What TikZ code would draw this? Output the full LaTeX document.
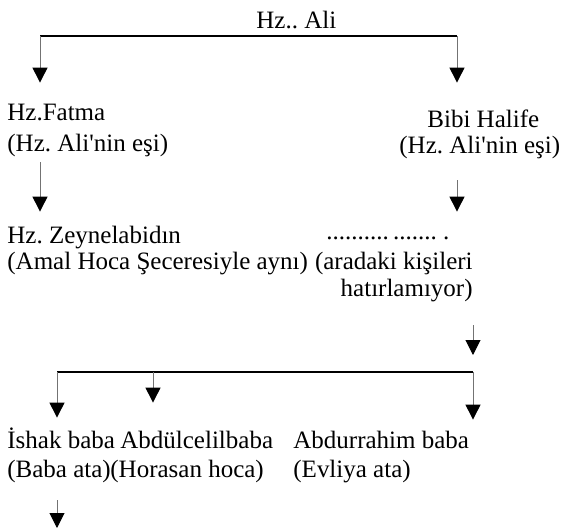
\documentclass[tikz,border=0pt]{standalone}
\usepackage{fontspec}
\setmainfont{Liberation Serif}
\usetikzlibrary{arrows.meta}
\frenchspacing

\begin{document}
\begin{tikzpicture}[x=0.5pt,y=-0.5pt,
  ad/.style={inner sep=0pt,anchor=base west,text height=8.5pt,text depth=2.5pt,font=\fontsize{12.5}{15}\selectfont},
  ok/.style={draw=black!55,line width=0.5pt,-{Triangle[length=7.5pt,width=7.5pt,color=black]}},
  cizgi/.style={draw=black,line width=0.6pt}]
\useasboundingbox (0,0) rectangle (564,530);
% isimler (names)
\node[ad] (ali) at (256,29) {Hz.. Ali};
\node[ad] (fatma) at (7,120) {Hz.Fatma};
\node[ad] (fatmaes) at (7,152) {(Hz. Ali\textquotesingle nin eşi)};
\node[ad] (halife) at (427,127) {Bibi Halife};
\node[ad] (halifees) at (399,154) {(Hz. Ali\textquotesingle nin eşi)};
\node[ad] (zeynel) at (7,243) {Hz. Zeynelabidın};
\node[ad] (zeynelb) at (7,270) {(Amal Hoca Şeceresiyle aynı)};
\node[ad] (noktalar) at (326,240) {..........\,.......\ .};
\node[ad,anchor=base east] (aradaki) at (473,270) {(aradaki kişileri};
\node[ad,anchor=base east] (hatir) at (473,297) {hatırlamıyor)};
\node[ad] (ishak) at (7,448) {İshak baba};
\node[ad] (abdul) at (120,448) {Abdülcelilbaba};
\node[ad] (abdurrahim) at (293,448) {Abdurrahim baba};
\node[ad] (babaata) at (7,477) {(Baba ata)};
\node[ad] (horasan) at (110,477) {(Horasan hoca)};
\node[ad] (evliya) at (293,477) {(Evliya ata)};
% dugumler (joints)
\coordinate (alil) at (40,36);
\coordinate (alir) at (457,36);
\coordinate (bol) at (473,372);
\coordinate (boll) at (57,372);
\coordinate (bolm) at (153,372);
\coordinate (sonra) at (57,528);
% oklar (arrows)
\draw[cizgi] (alil) -- (alir);
\draw[ok,shorten >=10pt] (alil) -- (fatma.north -| alil);
\draw[ok,shorten >=13.5pt] (alir) -- (halife.north -| alir);
\draw[ok,shorten <=2.5pt,shorten >=7pt] (fatmaes.south -| alil) -- (zeynel.north -| alil);
\draw[ok,shorten <=10.5pt,shorten >=5.5pt] (halifees.south -| alir) -- (noktalar.north -| alir);
\draw[ok,shorten <=11.5pt,shorten >=8.5pt] (hatir.south -| bol) -- (bol);
\draw[cizgi] (boll) -- (bol);
\draw[ok,shorten >=6.5pt] (boll) -- (ishak.north -| boll);
\draw[ok,shorten >=14pt] (bolm) -- (abdul.north -| bolm);
\draw[ok,shorten >=5.5pt] (bol) -- (abdurrahim.north -| bol);
\draw[ok,shorten <=9pt] (babaata.south -| sonra) -- (sonra);
\end{tikzpicture}
\end{document}
